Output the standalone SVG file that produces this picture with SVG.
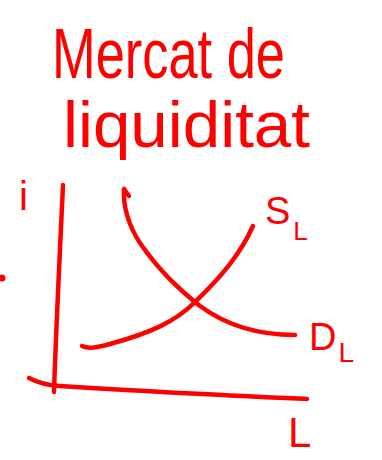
<svg xmlns="http://www.w3.org/2000/svg" width="382" height="460" viewBox="0 0 382 460">
<style>
.t{font-family:"Liberation Sans",Arial,sans-serif;fill:#ff0000;}
.ln{fill:none;stroke:#ff0000;stroke-width:4.5;stroke-linecap:round;stroke-linejoin:round;}
</style>
<rect width="382" height="460" fill="#ffffff"/>
<g id="title">
<text class="t" x="52" y="78" font-size="70" textLength="233" lengthAdjust="spacingAndGlyphs">Mercat de</text>
<text class="t" x="63" y="147" font-size="64" textLength="247" lengthAdjust="spacingAndGlyphs">liquiditat</text>
</g>
<g id="axes">
<path class="ln" d="M63,185 C60,250 56,330 54,392"/>
<path class="ln" d="M29,378 Q42,385 60,386 C150,392 240,396 307,399"/>
<text class="t" x="19" y="210" font-size="40">i</text>
<text class="t" x="288" y="447" font-size="42">L</text>
</g>
<g id="dot"><circle cx="2" cy="278" r="3.5" fill="#ff0000"/></g>
<g id="connectors">
<path id="supply" class="ln" d="M82,346 C88,349 95,348 110,344 C150,333 175,322 195,302 C220,278 240,255 253,226"/>
<path id="demand" class="ln" d="M129,196 L124,189 C123,205 128,225 140,243 C160,272 180,290 200,306 C230,328 265,335 295,335"/>
</g>
<g id="label-S">
<text class="t" x="265" y="224" font-size="38">S<tspan dx="3" dy="16" font-size="26">L</tspan></text>
</g>
<g id="label-D">
<text class="t" x="309" y="350" font-size="38">D<tspan dx="2" dy="12" font-size="28">L</tspan></text>
</g>
</svg>
